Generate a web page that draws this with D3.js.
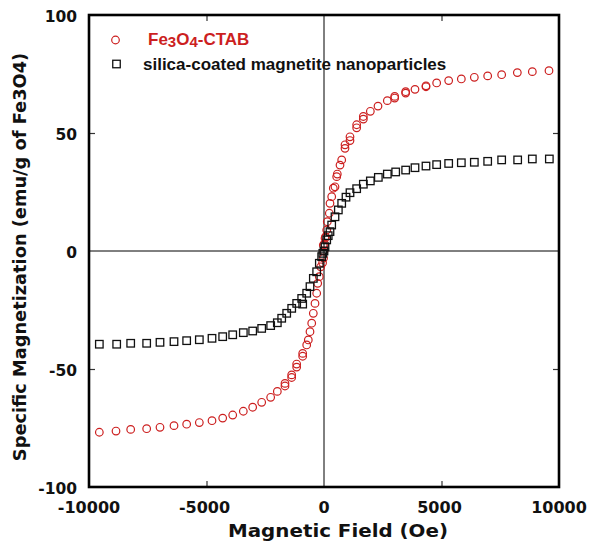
<!DOCTYPE html>
<html><head><meta charset="utf-8">
<script src="https://cdn.jsdelivr.net/npm/d3@7"></script>
<style>body{margin:0;background:#fff}svg{display:block}</style>
</head><body>
<script>
const xTicks = [-10000, -5000, 0, 5000, 10000];
const yTicks = [-100, -50, 0, 50, 100];
const redField = [9574,8865,8227,7560,6965,6397,5844,5305,4794,4340,4340,3872,3475,3475,3008,3008,2695,2298,1972,1674,1674,1390,1390,1106,1106,894,894,753,681,566,540,468,396,328,255,226,140,115,60,43,20,0,-20,-30,-60,-140,-200,-268,-311,-383,-455,-523,-596,-668,-736,-907,-907,-1163,-1163,-1376,-1376,-1660,-1660,-1986,-2270,-2652,-3035,-3433,-3885,-4311,-4766,-5305,-5844,-6383,-6979,-7546,-8226,-8851,-9560];
const redMag   = [76.4,76.0,75.6,74.7,74.2,73.6,72.9,72.2,71.2,70.0,69.6,68.5,66.9,67.5,65.5,64.8,63.7,61.4,59.2,55.9,57.0,52.2,53.5,48.4,46.8,43.5,45.0,38.6,36.4,32.6,31.5,27.2,26.6,23.0,20.2,16.0,12.4,8.9,6.0,5.4,3.0,0,-3.0,2.5,-5.0,-6.7,-10.9,-13.7,-17.9,-22.2,-26.4,-30.6,-34.2,-37.7,-39.8,-43.4,-44.6,-47.9,-49.2,-52.5,-53.6,-56.1,-57.2,-59.5,-62.0,-64.1,-66.2,-67.9,-69.5,-70.8,-71.9,-72.7,-73.4,-74.0,-74.7,-75.3,-75.6,-76.3,-76.8];
const blackField = [9589,8865,8241,7560,6965,6397,5844,5305,4794,4340,3872,3475,3050,2695,2312,1972,1674,1390,1106,936,753,610,468,327,255,180,115,43,0,-50,-99,-199,-312,-454,-596,-736,-907,-949,-1162,-1374,-1587,-1800,-1986,-2270,-2652,-3035,-3433,-3885,-4311,-4766,-5305,-5844,-6383,-6979,-7546,-8226,-8822,-9560];
const blackMag   = [39.0,39.0,38.6,38.6,38.0,37.6,37.4,37.1,36.6,36.0,35.3,34.3,33.5,32.6,31.2,29.7,28.3,26.4,24.7,22.8,20.2,17.4,14.5,11.0,8.2,6.5,4.7,1.8,0,-1.0,-2.4,-5.2,-8.8,-11.6,-15.1,-17.9,-22.5,-20.1,-22.2,-24.3,-26.4,-28.5,-30.4,-31.6,-32.8,-33.9,-34.6,-35.5,-36.3,-37.0,-37.6,-38.0,-38.4,-38.7,-39.1,-39.1,-39.5,-39.5];
const xLabel = "Magnetic Field (Oe)";
const yLabel = "Specific Magnetization (emu/g of Fe3O4)";
const legendLabels = ["Fe3O4-CTAB", "silica-coated magnetite nanoparticles"];

const W = 589, H = 547;
const m = {left: 89, right: 30, top: 15, bottom: 60};
const svg = d3.select("body").append("svg").attr("width", W).attr("height", H);
const x = d3.scaleLinear().domain([-10000, 10000]).range([m.left, W - m.right]);
const y = d3.scaleLinear().domain([-100, 100]).range([H - m.bottom, m.top]);
const red = "#cc1f1f";
const tickFont = "'DejaVu Sans', sans-serif";

// zero lines
svg.append("line").attr("x1", x(0)).attr("x2", x(0)).attr("y1", y(100)).attr("y2", y(-100)).attr("stroke", "#000").attr("stroke-width", 1);
svg.append("line").attr("x1", x(-10000)).attr("x2", x(10000)).attr("y1", y(0)).attr("y2", y(0)).attr("stroke", "#000").attr("stroke-width", 1);

// inner ticks
const tl = 6;
const g = svg.append("g");
g.append("g").attr("transform", `translate(0,${y(-100)})`).call(d3.axisTop(x).tickValues([-5000, 5000]).tickSize(tl).tickFormat(""));
g.append("g").attr("transform", `translate(0,${y(100)})`).call(d3.axisBottom(x).tickValues([-5000, 5000]).tickSize(tl).tickFormat(""));
g.append("g").attr("transform", `translate(${x(-10000)},0)`).call(d3.axisRight(y).tickValues([-50, 50]).tickSize(tl).tickFormat(""));
g.append("g").attr("transform", `translate(${x(10000)},0)`).call(d3.axisLeft(y).tickValues([-50, 50]).tickSize(tl).tickFormat(""));
g.selectAll(".domain").remove();
g.selectAll(".tick line").attr("stroke", "#333").attr("stroke-width", 1.2);

// data
svg.append("g").selectAll("circle").data(redField.map((f, i) => [f, redMag[i]])).join("circle")
  .attr("cx", d => x(d[0])).attr("cy", d => y(d[1])).attr("r", 3.8)
  .attr("fill", "none").attr("stroke", red).attr("stroke-width", 1.2);
const s = 7.5;
svg.append("g").selectAll("rect").data(blackField.map((f, i) => [f, blackMag[i]])).join("rect")
  .attr("x", d => x(d[0]) - s / 2).attr("y", d => y(d[1]) - s / 2).attr("width", s).attr("height", s)
  .attr("fill", "none").attr("stroke", "#111").attr("stroke-width", 1.3);

// frame
svg.append("rect").attr("x", x(-10000)).attr("y", y(100)).attr("width", x(10000) - x(-10000)).attr("height", y(-100) - y(100))
  .attr("fill", "none").attr("stroke", "#000").attr("stroke-width", 2.6);

// tick labels
svg.append("g").selectAll("text").data(xTicks).join("text")
  .attr("x", d => x(d) - (Math.abs(d) === 5000 ? 2 : 0)).attr("y", y(-100) + 26).attr("text-anchor", "middle")
  .attr("font-family", tickFont).attr("font-weight", "bold").attr("font-size", 16).attr("fill", "#111")
  .text(d => d);
svg.append("g").selectAll("text").data(yTicks).join("text")
  .attr("x", 77).attr("y", d => y(d) + 6.5).attr("text-anchor", "end")
  .attr("font-family", tickFont).attr("font-weight", "bold").attr("font-size", 15.5).attr("fill", "#111")
  .text(d => d);

// axis titles
svg.append("text").attr("x", 338).attr("y", 537).attr("text-anchor", "middle")
  .attr("textLength", 220).attr("lengthAdjust", "spacingAndGlyphs")
  .attr("font-family", tickFont).attr("font-weight", "bold").attr("font-size", 18).attr("fill", "#111").text(xLabel);
svg.append("text").attr("transform", `translate(26,257) rotate(-90)`).attr("text-anchor", "middle")
  .attr("font-family", tickFont).attr("font-weight", "bold").attr("font-size", 17.8).attr("fill", "#111").text(yLabel);

// legend
const lf = "'Liberation Sans', Arial, sans-serif";
svg.append("circle").attr("cx", 115.5).attr("cy", 40).attr("r", 3.8).attr("fill", "none").attr("stroke", red).attr("stroke-width", 1.2);
const t1 = svg.append("text").attr("x", 148).attr("y", 44.5).attr("font-family", lf).attr("font-weight", "bold").attr("font-size", 17).attr("fill", red);
t1.append("tspan").text("Fe");
t1.append("tspan").attr("dy", 2.5).attr("font-size", 15).text("3");
t1.append("tspan").attr("dy", -2.5).text("O");
t1.append("tspan").attr("dy", 2.5).attr("font-size", 15).text("4");
t1.append("tspan").attr("dy", -2.5).text("-CTAB");
svg.append("rect").attr("x", 116.5 - s / 2).attr("y", 64 - s / 2).attr("width", s).attr("height", s).attr("fill", "none").attr("stroke", "#111").attr("stroke-width", 1.3);
svg.append("text").attr("x", 143).attr("y", 70).attr("font-family", lf).attr("font-weight", "bold").attr("font-size", 17).attr("fill", "#111").text(legendLabels[1]);
</script>
</body></html>
